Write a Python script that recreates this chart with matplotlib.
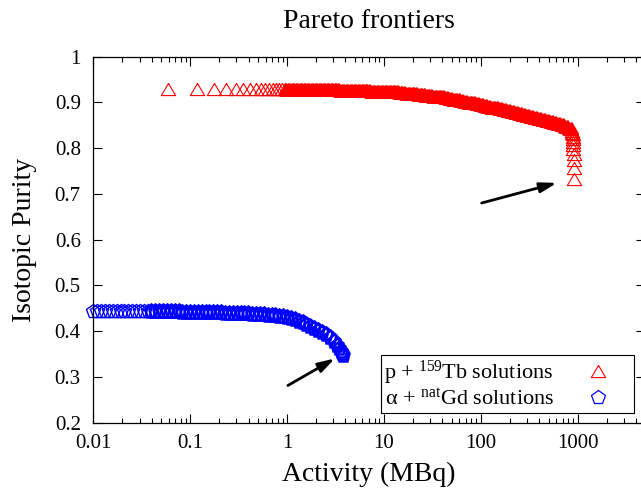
import numpy as np
import matplotlib
matplotlib.use('Agg')
import matplotlib.pyplot as plt
from matplotlib.ticker import LogLocator, NullFormatter, FuncFormatter, FixedLocator
from matplotlib.lines import Line2D

plt.rcParams['font.family'] = ['Liberation Serif', 'DejaVu Serif']
plt.rcParams['mathtext.fontset'] = 'custom'
plt.rcParams['mathtext.rm'] = 'Liberation Serif'
plt.rcParams['mathtext.it'] = 'Liberation Serif:italic'

# ---------------- data ----------------
# p + 159Tb : sparse low-activity points
tb_x_sparse = [0.059, 0.118, 0.177, 0.237, 0.296, 0.355, 0.414, 0.473, 0.532,
               0.592, 0.651, 0.710, 0.769, 0.828, 0.887, 0.946]
tb_y_sparse = [0.929] * 16

# p + 159Tb : dense band
tb_x_dense = [1.0, 1.1, 1.2, 1.32, 1.45, 1.58, 1.74, 1.91, 2.09, 2.29, 2.51, 2.75,
              3.02, 3.31, 3.63, 3.98, 4.37, 4.79, 5.25, 5.75, 6.31, 6.92, 7.59, 8.32, 9.12,
              10.0, 11.0, 12.0, 13.2, 14.5, 15.8, 17.4, 19.1, 20.9, 22.9, 25.1, 27.5,
              30.2, 33.1, 36.3, 39.8, 43.7, 47.9, 52.5, 57.5, 63.1, 69.2, 75.9, 83.2, 91.2,
              100, 110, 120, 132, 145, 158, 174, 191, 209, 229, 251, 275,
              302, 331, 363, 398, 437, 479, 525, 575, 631, 692, 759, 832]
tb_y_dense = [0.930, 0.930, 0.930, 0.930, 0.930, 0.930, 0.930, 0.930,
              0.929, 0.929, 0.929, 0.929, 0.929, 0.929,
              0.928, 0.928, 0.928, 0.928,
              0.927, 0.927, 0.927, 0.927,
              0.926, 0.926, 0.926,
              0.925, 0.925, 0.924, 0.924, 0.923, 0.922, 0.921, 0.921, 0.920, 0.919,
              0.918, 0.917, 0.916, 0.915, 0.914, 0.913, 0.911, 0.910, 0.908, 0.907,
              0.905, 0.903, 0.902, 0.900, 0.898, 0.896,
              0.894, 0.892, 0.891, 0.889, 0.887, 0.885, 0.883, 0.881, 0.879, 0.877,
              0.875, 0.873, 0.870, 0.868, 0.866, 0.864, 0.862, 0.859, 0.857, 0.855,
              0.852, 0.848, 0.843]

# p + 159Tb : vertical end column
tb_x_col = [870, 882, 888, 892, 896, 899, 902, 905, 908, 911, 914, 918]
tb_y_col = [0.838, 0.833, 0.830, 0.825, 0.820, 0.814, 0.807, 0.798, 0.787,
            0.773, 0.757, 0.7325]

# alpha + natGd
gd_x = [0.0099, 0.011, 0.012, 0.0132, 0.0145, 0.0158, 0.0174, 0.0191, 0.0209, 0.0229,
        0.0251, 0.0275, 0.0302, 0.0331, 0.0363, 0.0398, 0.0437, 0.0479, 0.0525, 0.0575,
        0.0631, 0.0692, 0.0759, 0.0832, 0.0912,
        0.100, 0.110, 0.120, 0.132, 0.145, 0.158, 0.174, 0.191, 0.209, 0.229,
        0.251, 0.275, 0.302, 0.331, 0.363, 0.398, 0.437, 0.479, 0.525, 0.575,
        0.631, 0.692, 0.759, 0.832, 0.912,
        1.00, 1.10, 1.20, 1.32, 1.45, 1.58, 1.74, 1.91, 2.09, 2.29, 2.51, 2.75,
        3.02, 3.31, 3.47, 3.63, 3.72, 3.80]
gd_y = [0.444, 0.444, 0.444, 0.444, 0.444, 0.444, 0.444, 0.4438, 0.4437, 0.4436,
        0.4435, 0.4434, 0.4433, 0.4432, 0.4431, 0.443, 0.443, 0.443, 0.443, 0.443,
        0.443, 0.4429, 0.4428, 0.4427, 0.4426,
        0.4425, 0.4423, 0.4421, 0.4419, 0.4417, 0.4415, 0.4412, 0.4409, 0.4406, 0.4403,
        0.440, 0.4397, 0.4394, 0.4391, 0.4388, 0.4385, 0.4381, 0.4377, 0.4372, 0.4366,
        0.436, 0.4353, 0.4345, 0.4335, 0.432,
        0.430, 0.428, 0.4255, 0.4225, 0.419, 0.415, 0.4115, 0.4075, 0.403, 0.398,
        0.3925, 0.3865, 0.379, 0.369, 0.363, 0.356, 0.351, 0.347]

# annotation arrows (tail, head) in data coordinates
arrow_tb = ((102, 0.680), (610, 0.724))
arrow_gd = ((1.02, 0.281), (3.12, 0.340))

x_ticks = [0.01, 0.1, 1, 10, 100, 1000]
y_ticks = [0.2, 0.3, 0.4, 0.5, 0.6, 0.7, 0.8, 0.9, 1.0]
labels = ['p + $^{159}$Tb solutions', 'α + $^{\\mathrm{nat}}$Gd solutions']

# ---------------- figure ----------------
W, H = 641, 493
fig = plt.figure(figsize=(W / 100, H / 100), dpi=100)
left, right, top, bottom = 93.3, 645.4, 56.7, 422.5
ax = fig.add_axes([left / W, 1 - bottom / H, (right - left) / W, (bottom - top) / H])
ax.set_xscale('log')
ax.set_xlim(0.01, 5000)
ax.set_ylim(0.2, 1.0)

tri = [(0, 0.85), (-1, -0.85), (1, -0.85), (0, 0.85)]
red = '#ff0000'
blue = '#0000ff'

ax.plot(tb_x_sparse, tb_y_sparse, ls='none', marker=tri, ms=10.3, mfc='none',
        mec=red, mew=0.8, clip_on=False)
ax.plot(tb_x_dense, tb_y_dense, ls='none', marker=tri, ms=9.4, mfc='none',
        mec=red, mew=2.8, clip_on=False)
ax.plot(tb_x_col, tb_y_col, ls='none', marker=tri, ms=10.3, mfc='none',
        mec=red, mew=0.8, clip_on=False)
ax.plot(gd_x[:16], gd_y[:16], ls='none', marker='p', ms=10.4, mfc='none',
        mec=blue, mew=1.0, clip_on=False)
ax.plot(gd_x[15:], gd_y[15:], ls='none', marker='p', ms=9.8, mfc='none',
        mec=blue, mew=1.8, clip_on=False)

for (tail, head) in (arrow_tb, arrow_gd):
    ax.annotate('', xy=head, xytext=tail,
                arrowprops=dict(arrowstyle='-|>,head_length=1.0,head_width=0.3',
                                color='black', lw=2.0, shrinkA=0, shrinkB=0))

ax.xaxis.set_major_locator(FixedLocator(x_ticks))
ax.xaxis.set_major_formatter(FuncFormatter(lambda v, p: '%g' % v))
ax.xaxis.set_minor_locator(LogLocator(base=10, subs=np.arange(2, 10), numticks=100))
ax.xaxis.set_minor_formatter(NullFormatter())
ax.yaxis.set_major_locator(FixedLocator(y_ticks))
ax.yaxis.set_major_formatter(FuncFormatter(lambda v, p: '%g' % round(v, 1)))

ax.tick_params(which='both', direction='in', top=True, right=True, labelsize=15,
               width=0.8, colors='black')
ax.tick_params(which='major', length=6.3)
ax.tick_params(which='minor', length=3.4)
ax.tick_params(axis='x', which='major', pad=8)
ax.tick_params(axis='y', which='major', pad=9)
for s in ax.spines.values():
    s.set_linewidth(0.9)

h1 = Line2D([], [], ls='none', marker=tri, ms=10.3, mfc='none', mec=red, mew=0.8)
h2 = Line2D([], [], ls='none', marker='p', ms=10.4, mfc='none', mec=blue, mew=0.9)
leg = ax.legend([h1, h2], labels, loc='lower right',
                bbox_to_anchor=(634 / W, 1 - 413 / H), bbox_transform=fig.transFigure,
                markerfirst=False, fancybox=False, edgecolor='black', framealpha=1,
                fontsize=16, handlelength=2.95, handletextpad=0.51, borderpad=0.15,
                labelspacing=0.05, numpoints=1, borderaxespad=0)
leg.get_frame().set_linewidth(0.8)

fig.text(369 / W, 1 - 21 / H, 'Pareto frontiers', ha='center', va='center', fontsize=20)
fig.text(369 / W, 1 - 474 / H, 'Activity (MBq)', ha='center', va='center', fontsize=20)
fig.text(25 / W, 1 - 239.5 / H, 'Isotopic Purity', ha='center', va='center',
         fontsize=20, rotation=90)

fig.savefig('out.png', dpi=100)
